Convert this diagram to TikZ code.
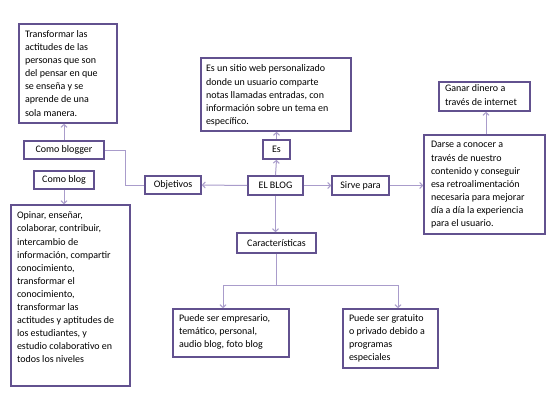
\documentclass[tikz,border=0pt]{standalone}
\usepackage{fontspec}
\setmainfont{Carlito}
\usetikzlibrary{arrows.meta}
\definecolor{boxc}{HTML}{62518F}
\definecolor{linec}{HTML}{A99CCB}
\newcommand{\mytxt}[3]{\parbox[c][#2][t]{#1}{\raggedright #3}}
\tikzset{
  bx/.style={draw=boxc, line width=1.6pt, fill=white, inner sep=0pt, rectangle},
  conn/.style={draw=linec, line width=1pt},
  arr/.style={conn, -{Straight Barb[length=2.8pt,width=6pt]}},
}
\begin{document}
\begin{tikzpicture}[x=1pt,y=-1pt, font=\fontsize{10}{13.1}\selectfont]
\useasboundingbox[fill=white] (0,0) rectangle (560,420);

% nodes
\node[bx, minimum width=98pt, minimum height=99pt] (trans) at (68,73.5)
  {\mytxt{86pt}{86pt}{Transformar las\\actitudes de las\\personas que son\\del pensar en que\\se enseña y se\\aprende de una\\sola manera.}};
\node[bx, minimum width=80pt, minimum height=18pt] (blogger) at (64,150) {Como blogger\hspace{5pt}};
\node[bx, minimum width=60pt, minimum height=18pt] (blog) at (64,180) {Como blog};
\node[bx, minimum width=56pt, minimum height=18pt] (obj) at (173,185) {Objetivos};
\node[bx, minimum width=119pt, minimum height=181pt] (opinar) at (70.5,295.5)
  {\mytxt{107pt}{167pt}{Opinar, enseñar,\\colaborar, contribuir,\\intercambio de\\información, compartir\\conocimiento,\\transformar el\\conocimiento,\\transformar las\\actitudes y aptitudes de\\los estudiantes, y\\estudio colaborativo en\\todos los niveles}};
\node[bx, minimum width=55pt, minimum height=19pt] (elblog) at (275.5,185.5) {EL BLOG};
\node[bx, minimum width=57pt, minimum height=19pt] (sirve) at (360.5,185.5) {Sirve para};
\node[bx, minimum width=27pt, minimum height=19pt] (es) at (276.5,149.5) {Es};
\node[bx, minimum width=150pt, minimum height=73pt] (sitio) at (276,94.5)
  {\mytxt{140pt}{59pt}{Es un sitio web personalizado\\donde un usuario comparte\\notas llamadas entradas, con\\información sobre un tema en\\específico.}};
\node[bx, minimum width=91pt, minimum height=29pt] (ganar) at (484.5,96.5)
  {\mytxt{79pt}{23pt}{Ganar dinero a\\través de internet}};
\node[bx, minimum width=121pt, minimum height=99pt] (darse) at (484.5,184.5)
  {\mytxt{107pt}{86pt}{Darse a conocer a\\través de nuestro\\contenido y conseguir\\esa retroalimentación\\necesaria para mejorar\\día a día la experiencia\\para el usuario.}};
\node[bx, minimum width=79pt, minimum height=20pt] (caract) at (276.5,243) {Características};
\node[bx, minimum width=116pt, minimum height=48pt] (emp) at (231,333)
  {\mytxt{104pt}{37pt}{Puede ser empresario,\\temático, personal,\\audio blog, foto blog}};
\node[bx, minimum width=95pt, minimum height=59pt] (grat) at (390.5,338.5)
  {\mytxt{83pt}{48pt}{Puede ser gratuito\\o privado debido a\\programas\\especiales}};

% helper coordinates
\coordinate (j) at (125,185);
\coordinate (bj) at (277,285);
\coordinate (ea) at (223,0);
\coordinate (ga) at (398,0);

% connectors
\draw[arr] (blogger.north) -- (blogger.north |- trans.south);
\draw[arr] (blog.south) -- (blog.south |- opinar.north);
\draw[conn] (blogger.east) -| (j) -- (obj.west);
\draw[arr] (elblog.west) -- (obj.east);
\draw[arr] (elblog.east) -- (sirve.west);
\draw[arr] (elblog.north) -- (es.south);
\draw[arr] (es.north) -- (es.north |- sitio.south);
\draw[arr] (elblog.south) -- (elblog.south |- caract.north);
\draw[arr] (sirve.east) -- (sirve.east -| darse.west);
\draw[arr] (darse.north -| 486,0) -- (ganar.south -| 486,0);
\draw[conn] (caract.south) -- (caract.south |- bj);
\draw[arr] (caract.south |- bj) -| (ea |- emp.north);
\draw[arr] (caract.south |- bj) -| (ga |- grat.north);
\end{tikzpicture}
\end{document}
